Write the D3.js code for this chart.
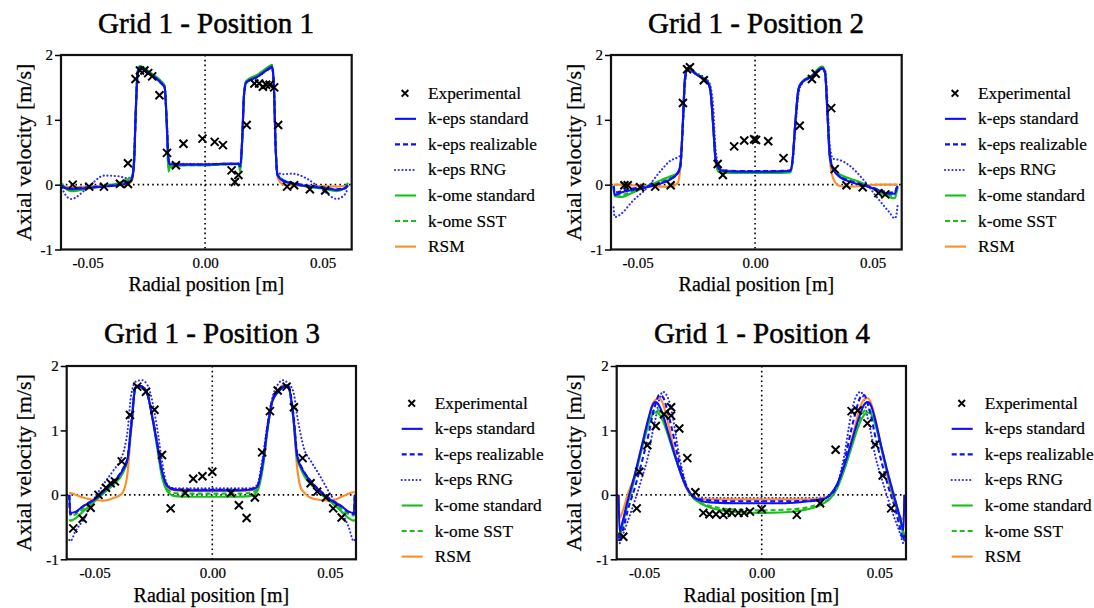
<!DOCTYPE html>
<html><head><meta charset="utf-8">
<script src="https://cdn.jsdelivr.net/npm/d3@7"></script>
<style>
body{margin:0;background:#fff}
svg{display:block}
text{font-family:"Liberation Serif","DejaVu Serif",serif;fill:#000}
</style>
</head><body>
<svg id="chart" width="1094" height="608"></svg>
<script>
// ---------------- DATA ----------------
const TITLES = ["Grid 1 - Position 1", "Grid 1 - Position 2", "Grid 1 - Position 3", "Grid 1 - Position 4"];
const X_LABEL = "Radial position [m]";
const Y_LABEL = "Axial velocity [m/s]";
const X_TICKS = [-0.05, 0.00, 0.05];
const Y_TICKS = [-1, 0, 1, 2];
const LEGEND_EXP = "Experimental";
const SERIES = ["k-eps standard", "k-eps realizable", "k-eps RNG", "k-ome standard", "k-ome SST", "RSM"];

// Position 1
const P1_X = [-0.0608, -0.0603, -0.057, -0.050, -0.043, -0.037, -0.033, -0.0312, -0.0302, -0.0295, -0.0287, -0.0278, -0.023, -0.0185, -0.0172, -0.0163, -0.0156, -0.0150, -0.008, 0.0, 0.008, 0.0143, 0.0150, 0.0158, 0.0166, 0.0175, 0.022, 0.0275, 0.0285, 0.0293, 0.0300, 0.0308, 0.033, 0.037, 0.043, 0.050, 0.056, 0.0595, 0.0608];
const P1_KEPS_STD  = [-0.01, -0.04, -0.07, -0.05, -0.03, -0.01, 0.03, 0.08, 0.35, 1.10, 1.72, 1.81, 1.70, 1.56, 1.50, 0.95, 0.40, 0.31, 0.31, 0.31, 0.32, 0.32, 0.28, 0.70, 1.40, 1.58, 1.66, 1.80, 1.82, 1.50, 0.60, 0.15, 0.06, 0.02, -0.02, -0.05, -0.08, -0.06, -0.01];
const P1_KEPS_REAL = [-0.01, -0.04, -0.06, -0.04, -0.02, 0.00, 0.04, 0.09, 0.36, 1.10, 1.71, 1.80, 1.70, 1.56, 1.50, 0.98, 0.42, 0.32, 0.31, 0.31, 0.32, 0.32, 0.29, 0.70, 1.38, 1.57, 1.66, 1.79, 1.81, 1.52, 0.62, 0.16, 0.07, 0.03, -0.01, -0.04, -0.07, -0.05, -0.01];
const P1_KEPS_RNG  = [-0.05, -0.10, -0.22, -0.05, 0.14, 0.13, 0.10, 0.12, 0.40, 1.10, 1.70, 1.79, 1.69, 1.56, 1.52, 1.00, 0.45, 0.33, 0.32, 0.32, 0.32, 0.32, 0.30, 0.70, 1.38, 1.57, 1.65, 1.79, 1.80, 1.52, 0.65, 0.20, 0.16, 0.17, 0.10, -0.08, -0.22, -0.15, -0.05];
const P1_KOME_STD  = [0.02, -0.02, -0.10, -0.06, -0.02, 0.02, 0.08, 0.12, 0.40, 1.15, 1.75, 1.83, 1.72, 1.59, 1.53, 0.90, 0.20, 0.27, 0.30, 0.30, 0.31, 0.32, 0.20, 0.65, 1.40, 1.60, 1.69, 1.83, 1.85, 1.55, 0.65, 0.15, 0.08, 0.02, -0.03, -0.06, -0.10, -0.05, 0.03];
const P1_KOME_SST  = [0.00, -0.03, -0.08, -0.05, -0.02, 0.01, 0.06, 0.10, 0.38, 1.12, 1.73, 1.82, 1.71, 1.58, 1.52, 0.92, 0.28, 0.29, 0.30, 0.30, 0.31, 0.32, 0.24, 0.68, 1.40, 1.59, 1.68, 1.82, 1.84, 1.53, 0.62, 0.15, 0.07, 0.02, -0.02, -0.05, -0.09, -0.05, 0.01];
const P1_RSM       = [-0.02, -0.03, -0.04, -0.03, -0.02, -0.01, 0.01, 0.05, 0.33, 1.10, 1.72, 1.81, 1.70, 1.56, 1.50, 0.95, 0.40, 0.31, 0.31, 0.31, 0.32, 0.32, 0.28, 0.70, 1.40, 1.58, 1.66, 1.80, 1.82, 1.50, 0.60, 0.12, 0.01, -0.01, -0.02, -0.02, -0.03, -0.02, -0.02];
const P1_EXP_X = [-0.0563, -0.0493, -0.043, -0.0362, -0.0328, -0.0328, -0.0296, -0.0277, -0.0258, -0.0242, -0.0225, -0.0194, -0.0162, -0.0124, -0.0092, -0.0011, 0.0041, 0.0076, 0.0113, 0.0127, 0.0142, 0.0177, 0.021, 0.023, 0.0246, 0.026, 0.0275, 0.0294, 0.0311, 0.0349, 0.0379, 0.0446, 0.0511];
const P1_EXP_Y = [0.0, -0.03, -0.03, 0.015, 0.01, 0.33, 1.63, 1.76, 1.76, 1.72, 1.67, 1.38, 0.49, 0.30, 0.63, 0.71, 0.66, 0.61, 0.22, 0.04, 0.15, 0.92, 1.56, 1.56, 1.51, 1.54, 1.54, 1.50, 0.92, -0.03, -0.01, -0.07, -0.09];

// Position 2
const P2_X = [-0.0602, -0.0597, -0.057, -0.052, -0.046, -0.040, -0.036, -0.033, -0.0318, -0.0308, -0.0298, -0.0286, -0.025, -0.0200, -0.0190, -0.0178, -0.0168, -0.0155, -0.0135, -0.007, 0.0, 0.007, 0.0150, 0.0160, 0.0170, 0.0185, 0.0200, 0.024, 0.0286, 0.0298, 0.0308, 0.0318, 0.0332, 0.036, 0.040, 0.046, 0.052, 0.057, 0.0595, 0.0602, 0.0607];
const P2_KEPS_STD  = [-0.02, -0.16, -0.12, -0.08, -0.04, 0.02, 0.08, 0.18, 0.30, 0.90, 1.65, 1.80, 1.70, 1.57, 1.45, 0.90, 0.40, 0.25, 0.21, 0.20, 0.20, 0.20, 0.21, 0.40, 0.90, 1.48, 1.58, 1.67, 1.80, 1.72, 1.10, 0.45, 0.24, 0.12, 0.05, -0.01, -0.08, -0.14, -0.14, -0.06, -0.02];
const P2_KEPS_REAL = [-0.02, -0.12, -0.10, -0.06, -0.02, 0.03, 0.09, 0.17, 0.28, 0.85, 1.62, 1.79, 1.70, 1.57, 1.46, 0.95, 0.42, 0.26, 0.22, 0.21, 0.21, 0.21, 0.22, 0.38, 0.85, 1.45, 1.57, 1.66, 1.79, 1.73, 1.15, 0.48, 0.25, 0.13, 0.06, 0.00, -0.07, -0.12, -0.12, -0.05, -0.02];
const P2_KEPS_RNG  = [-0.35, -0.50, -0.45, -0.25, -0.05, 0.22, 0.37, 0.42, 0.45, 0.85, 1.55, 1.78, 1.72, 1.60, 1.52, 1.20, 0.55, 0.30, 0.22, 0.21, 0.21, 0.21, 0.22, 0.35, 0.80, 1.40, 1.56, 1.66, 1.78, 1.76, 1.30, 0.60, 0.40, 0.38, 0.30, 0.08, -0.20, -0.42, -0.52, -0.45, -0.30];
const P2_KOME_STD  = [-0.05, -0.18, -0.19, -0.12, -0.03, 0.07, 0.13, 0.18, 0.28, 0.88, 1.64, 1.80, 1.71, 1.58, 1.46, 0.88, 0.35, 0.20, 0.18, 0.18, 0.18, 0.18, 0.19, 0.38, 0.88, 1.48, 1.59, 1.68, 1.82, 1.74, 1.10, 0.42, 0.24, 0.16, 0.10, 0.02, -0.10, -0.19, -0.21, -0.12, -0.05];
const P2_KOME_SST  = [-0.04, -0.15, -0.16, -0.10, -0.03, 0.05, 0.11, 0.17, 0.28, 0.88, 1.64, 1.80, 1.71, 1.58, 1.46, 0.90, 0.38, 0.22, 0.19, 0.19, 0.19, 0.19, 0.20, 0.38, 0.88, 1.47, 1.58, 1.67, 1.81, 1.73, 1.12, 0.45, 0.24, 0.15, 0.08, 0.01, -0.08, -0.16, -0.18, -0.10, -0.04];
const P2_RSM       = [0.00, 0.00, 0.00, -0.01, -0.02, -0.03, -0.03, 0.02, 0.25, 0.90, 1.66, 1.80, 1.70, 1.57, 1.45, 0.90, 0.40, 0.24, 0.21, 0.20, 0.20, 0.20, 0.21, 0.40, 0.90, 1.48, 1.58, 1.67, 1.80, 1.72, 1.10, 0.40, 0.10, -0.02, -0.03, -0.02, 0.00, 0.00, 0.00, 0.00, 0.00];
const P2_EXP_X = [-0.0556, -0.0542, -0.0489, -0.0425, -0.0359, -0.0307, -0.0289, -0.0277, -0.0218, -0.0159, -0.0137, -0.0089, -0.0046, -0.0004, 0.0004, 0.0056, 0.0121, 0.019, 0.0242, 0.0258, 0.0324, 0.0339, 0.0389, 0.0458, 0.0525, 0.0554];
const P2_EXP_Y = [-0.01, -0.01, -0.04, -0.03, -0.01, 1.26, 1.78, 1.81, 1.61, 0.32, 0.15, 0.59, 0.68, 0.70, 0.69, 0.67, 0.41, 0.91, 1.63, 1.71, 1.18, 0.24, -0.01, -0.04, -0.13, -0.15];

// Position 3
const P3_X = [-0.0608, -0.0604, -0.058, -0.055, -0.050, -0.046, -0.042, -0.039, -0.0375, -0.036, -0.0345, -0.0325, -0.030, -0.0275, -0.0255, -0.0235, -0.0215, -0.019, -0.016, -0.010, 0.0, 0.010, 0.016, 0.019, 0.0215, 0.0235, 0.0255, 0.028, 0.030, 0.032, 0.0345, 0.036, 0.0375, 0.039, 0.042, 0.046, 0.050, 0.055, 0.058, 0.0602, 0.0606];
const P3_KEPS_STD  = [0.00, -0.28, -0.26, -0.18, -0.07, 0.06, 0.20, 0.33, 0.42, 0.56, 1.05, 1.68, 1.68, 1.55, 1.20, 0.80, 0.38, 0.13, 0.08, 0.07, 0.07, 0.07, 0.08, 0.12, 0.50, 1.05, 1.45, 1.60, 1.67, 1.70, 1.20, 0.62, 0.45, 0.35, 0.20, 0.05, -0.07, -0.18, -0.26, -0.28, 0.00];
const P3_KEPS_REAL = [0.00, -0.30, -0.27, -0.18, -0.06, 0.07, 0.21, 0.34, 0.44, 0.58, 1.10, 1.69, 1.69, 1.56, 1.22, 0.82, 0.40, 0.14, 0.09, 0.08, 0.08, 0.08, 0.09, 0.13, 0.52, 1.08, 1.47, 1.62, 1.68, 1.71, 1.25, 0.66, 0.47, 0.36, 0.21, 0.06, -0.06, -0.18, -0.27, -0.30, 0.00];
const P3_KEPS_RNG  = [-0.70, -0.72, -0.55, -0.40, -0.05, 0.18, 0.38, 0.55, 0.70, 1.00, 1.55, 1.76, 1.78, 1.70, 1.45, 1.05, 0.55, 0.15, 0.10, 0.10, 0.10, 0.10, 0.10, 0.15, 0.60, 1.10, 1.50, 1.72, 1.78, 1.74, 1.60, 1.25, 0.95, 0.72, 0.52, 0.28, 0.02, -0.26, -0.50, -0.72, -0.70];
const P3_KOME_STD  = [-0.38, -0.40, -0.36, -0.26, -0.10, 0.03, 0.16, 0.28, 0.38, 0.55, 1.05, 1.67, 1.67, 1.55, 1.20, 0.75, 0.30, 0.05, -0.02, -0.03, -0.03, -0.03, -0.02, 0.05, 0.42, 1.00, 1.45, 1.60, 1.68, 1.70, 1.18, 0.58, 0.42, 0.30, 0.16, 0.02, -0.10, -0.26, -0.36, -0.40, -0.38];
const P3_KOME_SST  = [0.00, -0.32, -0.30, -0.22, -0.08, 0.05, 0.18, 0.30, 0.40, 0.55, 1.05, 1.67, 1.67, 1.55, 1.20, 0.78, 0.34, 0.08, 0.03, 0.02, 0.02, 0.02, 0.03, 0.08, 0.46, 1.02, 1.45, 1.60, 1.68, 1.70, 1.18, 0.60, 0.44, 0.32, 0.18, 0.04, -0.08, -0.22, -0.30, -0.32, 0.00];
const P3_RSM       = [0.03, 0.03, 0.00, -0.04, -0.08, -0.09, -0.05, 0.00, 0.08, 0.35, 1.00, 1.70, 1.68, 1.55, 1.22, 0.82, 0.38, 0.10, 0.07, 0.06, 0.06, 0.06, 0.07, 0.10, 0.48, 1.05, 1.47, 1.62, 1.70, 1.70, 1.15, 0.45, 0.12, 0.04, -0.05, -0.08, -0.09, -0.03, 0.02, 0.04, 0.04];
const P3_EXP_X = [-0.0591, -0.0551, -0.0517, -0.0484, -0.0452, -0.0432, -0.0414, -0.0385, -0.035, -0.0319, -0.0282, -0.0246, -0.0214, -0.0177, -0.0115, -0.0081, -0.0042, 0.0, 0.0079, 0.0113, 0.0146, 0.0181, 0.0212, 0.0245, 0.0278, 0.0316, 0.0347, 0.0384, 0.0418, 0.0446, 0.0483, 0.0514, 0.055];
const P3_EXP_Y = [-0.52, -0.37, -0.20, 0.0, 0.11, 0.18, 0.21, 0.52, 1.24, 1.68, 1.60, 1.32, 0.62, -0.21, 0.03, 0.25, 0.29, 0.36, 0.03, -0.16, -0.36, -0.04, 0.66, 1.30, 1.62, 1.68, 1.36, 0.57, 0.18, 0.05, -0.04, -0.21, -0.35];

// Position 4
const P4_X = [-0.0608, -0.0604, -0.059, -0.057, -0.054, -0.051, -0.048, -0.0465, -0.045, -0.0435, -0.042, -0.040, -0.038, -0.035, -0.032, -0.029, -0.026, -0.020, -0.010, 0.0, 0.010, 0.020, 0.026, 0.029, 0.032, 0.035, 0.038, 0.040, 0.042, 0.0435, 0.045, 0.0465, 0.048, 0.051, 0.054, 0.057, 0.059, 0.0602, 0.0606];
const P4_KEPS_STD  = [0.00, -0.57, -0.40, -0.10, 0.30, 0.75, 1.20, 1.38, 1.44, 1.38, 1.25, 1.00, 0.75, 0.40, 0.12, -0.03, -0.09, -0.12, -0.13, -0.13, -0.13, -0.10, -0.07, 0.00, 0.16, 0.45, 0.80, 1.05, 1.27, 1.40, 1.44, 1.38, 1.20, 0.72, 0.28, -0.12, -0.38, -0.55, 0.00];
const P4_KEPS_REAL = [-0.60, -0.70, -0.55, -0.25, 0.10, 0.50, 0.95, 1.22, 1.42, 1.55, 1.52, 1.30, 1.00, 0.50, 0.14, -0.03, -0.07, -0.09, -0.10, -0.10, -0.10, -0.09, -0.06, -0.01, 0.14, 0.50, 1.00, 1.30, 1.52, 1.55, 1.42, 1.22, 0.95, 0.50, 0.10, -0.25, -0.55, -0.70, -0.60];
const P4_KEPS_RNG  = [-0.70, -0.75, -0.62, -0.42, -0.10, 0.25, 0.65, 0.95, 1.20, 1.48, 1.60, 1.52, 1.25, 0.60, 0.15, -0.02, -0.04, -0.05, -0.05, -0.05, -0.05, -0.05, -0.04, -0.01, 0.15, 0.60, 1.25, 1.52, 1.60, 1.48, 1.20, 0.95, 0.65, 0.25, -0.10, -0.42, -0.62, -0.75, -0.70];
const P4_KOME_STD  = [-0.62, -0.65, -0.45, -0.15, 0.25, 0.70, 1.10, 1.24, 1.28, 1.25, 1.15, 0.95, 0.72, 0.40, 0.12, -0.05, -0.13, -0.22, -0.27, -0.28, -0.27, -0.22, -0.14, -0.06, 0.10, 0.38, 0.72, 0.95, 1.15, 1.24, 1.28, 1.25, 1.12, 0.70, 0.25, -0.15, -0.42, -0.62, -0.65];
const P4_KOME_SST  = [-0.58, -0.62, -0.43, -0.12, 0.28, 0.72, 1.14, 1.28, 1.33, 1.30, 1.20, 0.98, 0.74, 0.40, 0.12, -0.05, -0.12, -0.19, -0.23, -0.24, -0.23, -0.19, -0.12, -0.05, 0.12, 0.40, 0.74, 0.98, 1.20, 1.30, 1.33, 1.28, 1.14, 0.72, 0.28, -0.12, -0.43, -0.58, -0.62];
const P4_RSM       = [0.00, -0.36, -0.25, 0.00, 0.30, 0.75, 1.20, 1.40, 1.48, 1.50, 1.42, 1.15, 0.82, 0.40, 0.10, -0.03, -0.06, -0.07, -0.07, -0.07, -0.07, -0.07, -0.05, -0.01, 0.12, 0.42, 0.82, 1.12, 1.38, 1.48, 1.50, 1.42, 1.22, 0.70, 0.20, -0.20, -0.35, -0.38, 0.00];
const P4_EXP_X = [-0.0588, -0.0531, -0.052, -0.0486, -0.045, -0.0415, -0.0385, -0.0385, -0.035, -0.0316, -0.0282, -0.0248, -0.0222, -0.0194, -0.0163, -0.0149, -0.0127, -0.0099, -0.0075, -0.005, 0.0, 0.0149, 0.0248, 0.0314, 0.0382, 0.0408, 0.0449, 0.0482, 0.0514, 0.055];
const P4_EXP_Y = [-0.65, -0.21, 0.36, 0.77, 1.07, 1.25, 1.36, 1.23, 1.03, 0.57, 0.04, -0.28, -0.30, -0.30, -0.31, -0.27, -0.28, -0.28, -0.28, -0.26, -0.22, -0.31, -0.13, 0.70, 1.30, 1.31, 1.11, 0.78, 0.30, -0.21];

// ---------------- STYLES / LAYOUT ----------------
const FONT = '"Liberation Serif","DejaVu Serif",serif';
const STYLE = {
  "k-eps standard":   {color: "#0d0dff", dash: null},
  "k-eps realizable": {color: "#0d0dff", dash: "5,3"},
  "k-eps RNG":        {color: "#2a2aff", dash: "0.1,3.6", cap: "round"},
  "k-ome standard":   {color: "#18c018", dash: null},
  "k-ome SST":        {color: "#18c018", dash: "5,3"},
  "RSM":              {color: "#ff8c26", dash: null}
};
const DRAW_ORDER = ["k-eps RNG", "RSM", "k-ome standard", "k-ome SST", "k-eps realizable", "k-eps standard"];

const PANELS = [
  {title: TITLES[0], x: P1_X, ys: [P1_KEPS_STD, P1_KEPS_REAL, P1_KEPS_RNG, P1_KOME_STD, P1_KOME_SST, P1_RSM], ex: P1_EXP_X, ey: P1_EXP_Y,
   box: {l: 61, r: 351.7, t: 55, b: 249.5, xd: [-0.0613, 0.0624]}, titleX: 206, titleY: 33, ylabX: 23, xlabY: 291, legX: 395, legY: 93.3},
  {title: TITLES[1], x: P2_X, ys: [P2_KEPS_STD, P2_KEPS_REAL, P2_KEPS_RNG, P2_KOME_STD, P2_KOME_SST, P2_RSM], ex: P2_EXP_X, ey: P2_EXP_Y,
   box: {l: 611, r: 901.7, t: 55, b: 249.5, xd: [-0.0613, 0.0624]}, titleX: 756, titleY: 33, ylabX: 573, xlabY: 291, legX: 945, legY: 93.3},
  {title: TITLES[2], x: P3_X, ys: [P3_KEPS_STD, P3_KEPS_REAL, P3_KEPS_RNG, P3_KOME_STD, P3_KOME_SST, P3_RSM], ex: P3_EXP_X, ey: P3_EXP_Y,
   box: {l: 66.7, r: 356, t: 366, b: 559.3, xd: [-0.0619, 0.0611]}, titleX: 212, titleY: 343, ylabX: 23, xlabY: 602, legX: 401.7, legY: 403.3},
  {title: TITLES[3], x: P4_X, ys: [P4_KEPS_STD, P4_KEPS_REAL, P4_KEPS_RNG, P4_KOME_STD, P4_KOME_SST, P4_RSM], ex: P4_EXP_X, ey: P4_EXP_Y,
   box: {l: 616.7, r: 906, t: 366, b: 559.3, xd: [-0.0616, 0.0613]}, titleX: 762, titleY: 343, ylabX: 573, xlabY: 602, legX: 951.7, legY: 403.3}
];

const svg = d3.select("#chart");
const fmtX = v => d3.format(".2f")(v).replace("\u2212", "-");
const fmtY = v => (v < 0 ? "-" : "") + Math.abs(v);
const crossPath = s => `M${-s},${-s}L${s},${s}M${s},${-s}L${-s},${s}`;

PANELS.forEach((p, pi) => {
  const B = p.box;
  const xs = d3.scaleLinear().domain(B.xd).range([B.l, B.r]);
  const ys = d3.scaleLinear().domain([-1, 2]).range([B.b, B.t]);
  const g = svg.append("g");
  const clipId = "clip" + pi;
  svg.append("clipPath").attr("id", clipId).append("rect")
    .attr("x", B.l).attr("y", B.t).attr("width", B.r - B.l).attr("height", B.b - B.t);

  // zero reference lines
  g.append("line").attr("x1", B.l).attr("x2", B.r).attr("y1", ys(0)).attr("y2", ys(0))
    .attr("stroke", "#000").attr("stroke-width", 1.6).attr("stroke-dasharray", "1.6,3.2");
  g.append("line").attr("x1", xs(0)).attr("x2", xs(0)).attr("y1", B.t).attr("y2", B.b)
    .attr("stroke", "#000").attr("stroke-width", 1.6).attr("stroke-dasharray", "1.6,3.2");

  const plot = g.append("g").attr("clip-path", `url(#${clipId})`);
  const line = d3.line().x(d => xs(d[0])).y(d => ys(d[1])).curve(d3.curveMonotoneX);
  DRAW_ORDER.forEach(name => {
    const si = SERIES.indexOf(name);
    const vals = p.ys[si];
    const pts = p.x.map((xv, i) => [xv, vals[i]]);
    const st = STYLE[name];
    plot.append("path").datum(pts).attr("d", line)
      .attr("fill", "none").attr("stroke", st.color).attr("stroke-width", 2.1)
      .attr("stroke-dasharray", st.dash).attr("stroke-linecap", st.cap || "butt")
      .attr("stroke-linejoin", "round");
  });
  // experimental
  plot.selectAll("path.exp").data(p.ex.map((xv, i) => [xv, p.ey[i]])).enter()
    .append("path").attr("class", "exp")
    .attr("transform", d => `translate(${xs(d[0])},${ys(d[1])})`)
    .attr("d", crossPath(4)).attr("stroke", "#000").attr("stroke-width", 2).attr("fill", "none");

  // axes
  const ya = g.append("g").attr("transform", `translate(${B.l},0)`)
    .call(d3.axisLeft(ys).tickValues(Y_TICKS).tickSize(6).tickPadding(2).tickFormat(fmtY));
  ya.select(".domain").remove();
  ya.attr("font-family", null);
  ya.selectAll("line").attr("stroke-width", 1.5);
  ya.selectAll("text").style("font-family", FONT).style("font-size", "15px")
    .attr("stroke", "#000").attr("stroke-width", 0.2);

  const xa = g.append("g").attr("transform", `translate(0,${B.b})`)
    .call(d3.axisBottom(xs).tickValues(X_TICKS).tickSize(0).tickPadding(8).tickFormat(fmtX));
  xa.select(".domain").remove();
  xa.attr("font-family", null);
  xa.selectAll("text").style("font-family", FONT).style("font-size", "15px")
    .attr("stroke", "#000").attr("stroke-width", 0.2);

  // frame
  g.append("rect").attr("x", B.l).attr("y", B.t).attr("width", B.r - B.l).attr("height", B.b - B.t)
    .attr("fill", "none").attr("stroke", "#111").attr("stroke-width", 2.2);

  // titles / labels
  g.append("text").attr("x", p.titleX).attr("y", p.titleY).attr("text-anchor", "middle")
    .attr("stroke", "#000").attr("stroke-width", 0.5)
    .style("font-family", FONT).style("font-size", "29px").text(p.title);
  g.append("text").attr("transform", `translate(${p.ylabX},${(B.t + B.b) / 2}) rotate(-90)`)
    .attr("text-anchor", "middle").attr("dominant-baseline", "central")
    .attr("stroke", "#000").attr("stroke-width", 0.25)
    .style("font-family", FONT).style("font-size", "22px").text(Y_LABEL);
  g.append("text").attr("x", (B.l + B.r) / 2).attr("y", p.xlabY).attr("text-anchor", "middle")
    .attr("stroke", "#000").attr("stroke-width", 0.25)
    .style("font-family", FONT).style("font-size", "20px").text(X_LABEL);

  // legend
  const lg = g.append("g");
  const rowH = 25.55;
  lg.append("path").attr("transform", `translate(${p.legX + 10},${p.legY})`)
    .attr("d", crossPath(3.3)).attr("stroke", "#000").attr("stroke-width", 2);
  lg.append("text").attr("x", p.legX + 33).attr("y", p.legY).attr("dominant-baseline", "central")
    .attr("stroke", "#000").attr("stroke-width", 0.2)
    .style("font-family", FONT).style("font-size", "17.3px").text(LEGEND_EXP);
  SERIES.forEach((name, i) => {
    const y = p.legY + (i + 1) * rowH;
    const st = STYLE[name];
    lg.append("line").attr("x1", p.legX).attr("x2", p.legX + 21).attr("y1", y).attr("y2", y)
      .attr("stroke", st.color).attr("stroke-width", 2.1)
      .attr("stroke-dasharray", st.dash).attr("stroke-linecap", st.cap || "butt");
    lg.append("text").attr("x", p.legX + 33).attr("y", y).attr("dominant-baseline", "central")
      .attr("stroke", "#000").attr("stroke-width", 0.2)
      .style("font-family", FONT).style("font-size", "17.3px").text(name);
  });
});
</script>
</body></html>
